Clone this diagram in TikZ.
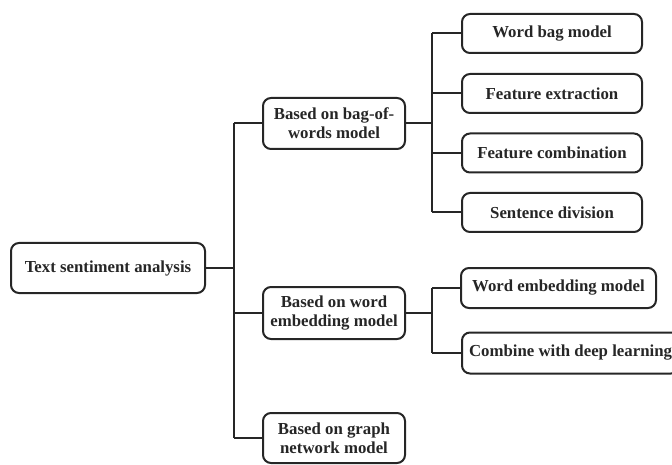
\documentclass[tikz,border=0pt]{standalone}
\usepackage{fontspec}
\setmainfont{Liberation Serif}
\begin{document}
\begin{tikzpicture}[x=1pt,y=-1pt,
  box/.style={draw=black!85, line width=2pt, rounded corners=8pt, align=center,
    font=\fontsize{16.8}{19}\selectfont\bfseries, inner sep=0pt, text=black!85},
  conn/.style={draw=black!85, line width=2pt}]
\useasboundingbox (0,0) rectangle (672,465);
\node[box, minimum width=194pt, minimum height=50pt] (root) at (108,268) {Text sentiment analysis};
\node[box, minimum width=142pt, minimum height=51pt] (b1) at (334,123.5) {Based on bag-of-\\words model};
\node[box, minimum width=142pt, minimum height=52pt] (b2) at (334,313) {Based on word\\embedding model};
\node[box, minimum width=142pt, minimum height=50pt] (b3) at (334,438) {Based on graph\\network model};
\node[box, minimum width=180pt, minimum height=39pt] (c1) at (552,33.5) {Word bag model};
\node[box, minimum width=180pt, minimum height=39pt] (c2) at (552,93.5) {Feature extraction};
\node[box, minimum width=180pt, minimum height=39pt] (c3) at (552,153) {Feature combination};
\node[box, minimum width=180pt, minimum height=39pt] (c4) at (552,212.5) {Sentence division};
\node[box, minimum width=195pt, minimum height=40pt] (d1) at (558.5,288) {Word embedding model};
\node[box, minimum height=41pt, anchor=west, inner xsep=7pt] (d2) at (461,353) {Combine with deep learning};
\coordinate (j0) at (234,268);
\coordinate (j0t) at (234,123.5);
\coordinate (j0b) at (234,438);
\coordinate (j1) at (432,123.5);
\coordinate (j1t) at (432,33.5);
\coordinate (j1b) at (432,212.5);
\coordinate (j2) at (432,313);
\coordinate (j2t) at (432,288);
\coordinate (j2b) at (432,353);
\draw[conn] (root.east) -- (j0);
\draw[conn] (j0t) -- (j0b);
\draw[conn] (j0t) -- (b1.west);
\draw[conn] (j0 |- b2.west) -- (b2.west);
\draw[conn] (j0b) -- (b3.west);
\draw[conn] (b1.east) -- (j1);
\draw[conn] (j1t) -- (j1b);
\draw[conn] (j1t) -- (c1.west);
\draw[conn] (j1 |- c2.west) -- (c2.west);
\draw[conn] (j1 |- c3.west) -- (c3.west);
\draw[conn] (j1b) -- (c4.west);
\draw[conn] (b2.east) -- (j2);
\draw[conn] (j2t) -- (j2b);
\draw[conn] (j2t) -- (d1.west);
\draw[conn] (j2b) -- (d2.west);
\end{tikzpicture}
\end{document}
